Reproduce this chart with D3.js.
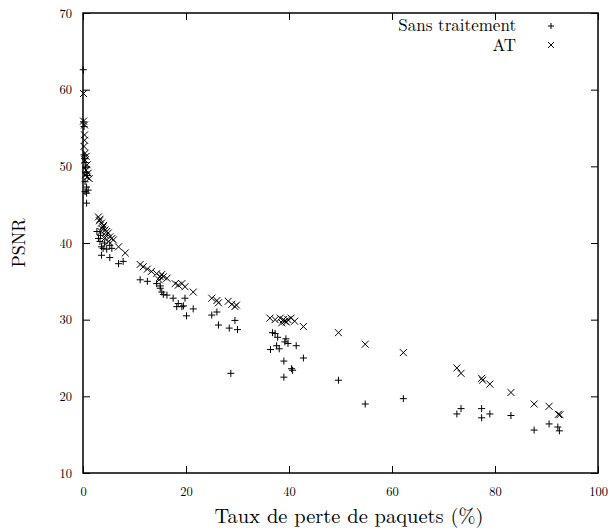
<!DOCTYPE html>
<html><head><meta charset="utf-8">
<script src="https://cdn.jsdelivr.net/npm/d3@7"></script>
<style>body{margin:0;background:#fff}svg{display:block}</style>
</head><body>
<script>
// Series: Sans traitement (+)
const sansX = [0.05,0.1,0.2,0.2,0.3,0.4,0.5,0.6,0.8,0.4,0.7,0.4,1.0,0.7,0.7,
  2.7,3.0,3.3,3.6,3.9,4.6,3.6,5.2,6.9,7.8,5.2,5.6,4.2,3.4,
  11.1,12.5,14.3,15.0,15.0,15.3,15.6,16.3,17.5,18.5,18.2,19.2,19.8,20.1,21.4,19.5,
  25.0,26.0,26.3,28.4,29.5,30.0,28.7,
  36.8,37.3,37.8,39.4,39.2,39.8,41.4,37.6,38.1,36.4,39.0,42.8,40.5,40.7,39.0,
  49.6,54.8,62.2,72.6,73.4,77.4,77.4,79.0,83.1,87.6,90.5,92.2,92.5];
const sansY = [62.6,55.8,55.2,51.5,51.0,50.5,49.8,49.2,48.8,48.0,47.3,46.7,46.9,46.5,45.2,
  41.5,40.6,40.2,39.5,39.3,39.2,38.4,38.1,37.3,37.6,39.7,39.3,40.0,41.0,
  35.2,35.0,34.7,34.4,34.1,33.6,33.3,33.2,32.8,32.1,31.7,31.7,32.8,30.5,31.4,31.8,
  30.6,31.0,29.3,28.9,29.9,28.7,23.0,
  28.3,28.2,27.7,27.5,27.1,26.9,26.6,26.6,26.2,26.1,24.6,25.0,23.6,23.4,22.5,
  22.1,19.0,19.7,17.7,18.4,18.4,17.2,17.7,17.5,15.6,16.4,16.0,15.5];
// Series: AT (x)
const atX = [0.1,0.1,0.3,0.3,0.3,0.2,0.4,0.6,0.4,0.8,0.6,1.0,0.8,1.2,0.5,
  3.0,3.3,3.6,3.9,4.3,4.6,4.9,5.2,5.6,5.9,6.9,8.2,3.2,3.8,4.0,4.4,5.0,3.5,4.2,
  11.1,11.7,12.5,13.3,14.3,15.0,15.6,16.3,14.8,15.3,17.9,18.5,19.2,19.8,21.4,
  25.0,26.0,26.3,28.2,28.9,29.5,29.8,
  36.3,37.3,38.3,38.9,39.2,39.8,40.4,41.1,42.8,38.6,39.5,
  49.6,54.8,62.2,72.6,73.4,77.4,77.6,79.0,83.1,87.6,90.5,92.3,92.6];
const atY = [59.5,55.9,55.4,54.1,53.4,52.6,51.7,51.3,50.8,50.2,49.5,49.1,48.6,48.4,48.9,
  43.4,43.1,42.6,42.1,41.7,41.5,41.3,40.8,40.6,40.4,39.5,38.7,42.9,41.8,42.3,41.0,40.2,41.5,40.6,
  37.2,36.9,36.6,36.3,36.0,35.6,35.6,35.4,35.2,35.9,34.7,34.5,34.7,34.3,33.6,
  32.8,32.5,32.2,32.4,32.0,31.7,31.9,
  30.2,30.0,30.2,30.0,29.8,30.0,30.2,29.8,29.1,29.6,29.7,
  28.3,26.8,25.7,23.7,23.0,22.35,22.1,21.6,20.5,19.0,18.7,17.65,17.6];
const xTicks = [0,20,40,60,80,100];
const yTicks = [10,20,30,40,50,60,70];
const seriesNames = ["Sans traitement","AT"];
const xTitle = "Taux de perte de paquets (%)";
const yTitle = "PSNR";

const FONT = "'Latin Modern Roman', 'Liberation Serif', serif";
const W = 615, H = 531;
const m = {left:83, top:13, right:598, bottom:473};
const svg = d3.select("body").append("svg").attr("width",W).attr("height",H)
  .attr("font-family",FONT);
const x = d3.scaleLinear().domain([0,100]).range([m.left,m.right]);
const y = d3.scaleLinear().domain([10,70]).range([m.bottom,m.top]);
const tl = 7;

const gx = svg.append("g").attr("transform",`translate(0,${m.bottom})`)
  .call(d3.axisBottom(x).tickValues(xTicks).tickSize(-tl).tickPadding(14).tickFormat(d3.format("d")));
const gxt = svg.append("g").attr("transform",`translate(0,${m.top})`)
  .call(d3.axisTop(x).tickValues(xTicks).tickSize(-tl).tickFormat(""));
const gy = svg.append("g").attr("transform",`translate(${m.left},0)`)
  .call(d3.axisLeft(y).tickValues(yTicks).tickSize(-tl).tickPadding(11).tickFormat(d3.format("d")));
const gyr = svg.append("g").attr("transform",`translate(${m.right},0)`)
  .call(d3.axisRight(y).tickValues(yTicks).tickSize(-tl).tickFormat(""));
[gx,gxt,gy,gyr].forEach(g=>{
  g.attr("font-family",FONT).attr("font-size",12.5);
  g.select(".domain").remove();
  g.selectAll(".tick line").attr("stroke","#000").attr("stroke-width",1);
  g.selectAll(".tick text").attr("fill","#000");
});
svg.append("rect").attr("x",m.left).attr("y",m.top).attr("width",m.right-m.left).attr("height",m.bottom-m.top)
  .attr("fill","none").attr("stroke","#000").attr("stroke-width",1.5);

svg.append("text").attr("x",349).attr("y",523).attr("text-anchor","middle")
  .attr("font-size",20.5).attr("fill","#000").text(xTitle);
svg.append("text").attr("transform",`translate(25,${243}) rotate(-90)`).attr("text-anchor","middle")
  .attr("font-size",18).attr("fill","#000").text(yTitle);

const s = 3.5;
function plus(g,cx,cy){g.append("path").attr("d",`M${cx-s},${cy}H${cx+s}M${cx},${cy-s}V${cy+s}`)
  .attr("stroke","#000").attr("stroke-width",1).attr("fill","none");}
function cross(g,cx,cy){g.append("path").attr("d",`M${cx-s},${cy-s}L${cx+s},${cy+s}M${cx-s},${cy+s}L${cx+s},${cy-s}`)
  .attr("stroke","#000").attr("stroke-width",1).attr("fill","none");}
const gs = svg.append("g");
sansX.forEach((v,i)=>plus(gs,x(v),y(sansY[i])));
const ga = svg.append("g");
atX.forEach((v,i)=>cross(ga,x(v),y(atY[i])));

const lg = svg.append("g");
lg.append("text").attr("x",516).attr("y",31).attr("text-anchor","end").attr("font-size",17).attr("fill","#000").text(seriesNames[0]);
lg.append("text").attr("x",516).attr("y",51).attr("text-anchor","end").attr("font-size",17).attr("fill","#000").text(seriesNames[1]);
const ls = 3;
lg.append("path").attr("d",`M${551-ls},26H${551+ls}M551,${26-ls}V${26+ls}`).attr("stroke","#000").attr("fill","none");
lg.append("path").attr("d",`M${551-ls},${45-ls}L${551+ls},${45+ls}M${551-ls},${45+ls}L${551+ls},${45-ls}`).attr("stroke","#000").attr("fill","none");
</script>
</body></html>
